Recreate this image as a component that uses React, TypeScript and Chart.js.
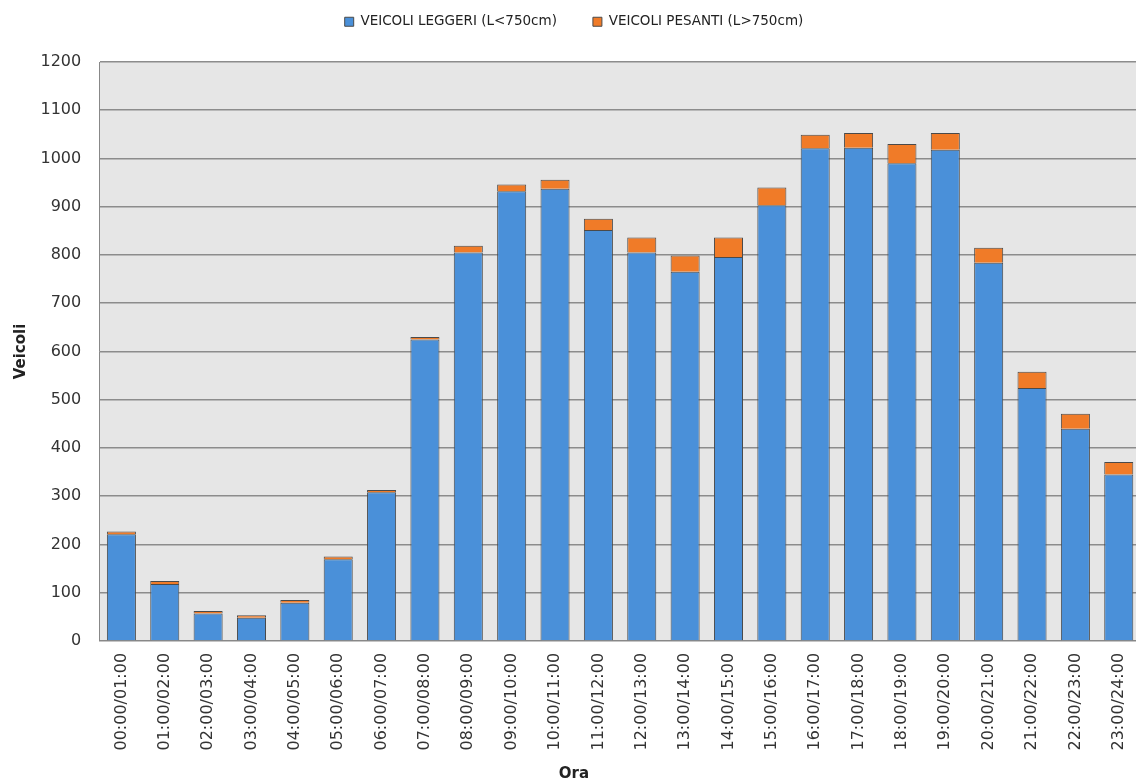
import React, { useEffect, useRef } from "react";
import { Chart, registerables } from "chart.js";

Chart.register(...registerables);

const categories = [
  "00:00/01:00", "01:00/02:00", "02:00/03:00", "03:00/04:00", "04:00/05:00", "05:00/06:00",
  "06:00/07:00", "07:00/08:00", "08:00/09:00", "09:00/10:00", "10:00/11:00", "11:00/12:00",
  "12:00/13:00", "13:00/14:00", "14:00/15:00", "15:00/16:00", "16:00/17:00", "17:00/18:00",
  "18:00/19:00", "19:00/20:00", "20:00/21:00", "21:00/22:00", "22:00/23:00", "23:00/24:00",
];

const leggeri = [221, 118, 57, 48, 79, 169, 308, 625, 805, 932, 937, 852, 805, 765, 796, 903, 1021, 1022, 990, 1018, 784, 524, 440, 345];
const pesanti = [6, 6, 5, 5, 6, 6, 5, 5, 14, 14, 19, 23, 31, 34, 40, 37, 28, 31, 40, 35, 31, 34, 31, 26];

const seriesNames = ["VEICOLI LEGGERI (L<750cm)", "VEICOLI PESANTI (L>750cm)"];
const yTitle = "Veicoli";
const xTitle = "Ora";

const FONT = "'DejaVu Sans', Verdana, sans-serif";

const plotBg = {
  id: "plotBg",
  beforeDraw(chart: any) {
    const { ctx, chartArea } = chart;
    if (!chartArea) return;
    ctx.save();
    ctx.fillStyle = "#e6e6e6";
    ctx.fillRect(chartArea.left, chartArea.top, chartArea.right - chartArea.left, chartArea.bottom - chartArea.top);
    ctx.restore();
  },
};

const legendSpace = {
  id: "legendSpace",
  beforeLayout(chart: any) {
    const lg = chart.legend;
    if (lg && !lg.__patched) {
      const orig = lg.fit;
      lg.fit = function () {
        orig.call(this);
        this.height = 83;
      };
      lg.__patched = true;
    }
  },
};

export default function App() {
  const ref = useRef<HTMLCanvasElement | null>(null);

  useEffect(() => {
    if (!ref.current) return;
    const chart = new Chart(ref.current, {
      type: "bar",
      data: {
        labels: categories,
        datasets: [
          {
            label: seriesNames[0],
            data: leggeri,
            backgroundColor: "#4a90d9",
            borderColor: "#4a4a4a",
            borderWidth: 1,
            barPercentage: 0.67,
            categoryPercentage: 1,
          },
          {
            label: seriesNames[1],
            data: pesanti,
            backgroundColor: "#f07b28",
            borderColor: "#4a4a4a",
            borderWidth: 1,
            barPercentage: 0.67,
            categoryPercentage: 1,
          },
        ],
      },
      options: {
        responsive: false,
        animation: false,
        layout: { padding: { top: -21, left: 0, right: 2, bottom: 0 } },
        plugins: {
          tooltip: { enabled: false },
          legend: {
            position: "top",
            labels: {
              boxWidth: 9,
              boxHeight: 9,
              padding: 36,
              color: "#222",
              font: { family: FONT, size: 13.5 },
            },
          },
          title: {
            display: true,
            position: "bottom",
            text: xTitle,
            color: "#222",
            font: { family: FONT, size: 15, weight: "bold", lineHeight: 1 },
            padding: { top: 4.5, bottom: 0 },
          },
        },
        scales: {
          x: {
            stacked: true,
            grid: { display: false, drawTicks: false },
            border: { display: true, color: "#888", width: 1 },
            ticks: {
              autoSkip: false,
              minRotation: 90,
              maxRotation: 90,
              padding: 12,
              color: "#333",
              font: { family: FONT, size: 16 },
            },
          },
          y: {
            stacked: true,
            min: 0,
            max: 1200,
            grid: { color: "#8c8c8c", lineWidth: 1.5, drawTicks: false },
            border: { display: true, color: "#888", width: 1 },
            ticks: {
              stepSize: 100,
              padding: 18.5,
              color: "#333",
              font: { family: FONT, size: 16 },
              callback: (v: any) => String(v),
            },
            title: {
              display: true,
              text: yTitle,
              color: "#222",
              font: { family: FONT, size: 15, weight: "bold" },
              padding: { top: 12, bottom: -8 },
            },
          },
        },
      },
      plugins: [plotBg, legendSpace],
    });
    return () => chart.destroy();
  }, []);

  return (
    <div style={{ position: "absolute", left: 0, top: 0, width: 1136, height: 782, overflow: "hidden", background: "#fff" }}>
      <canvas ref={ref} width={1150} height={782} style={{ display: "block" }} />
    </div>
  );
}
